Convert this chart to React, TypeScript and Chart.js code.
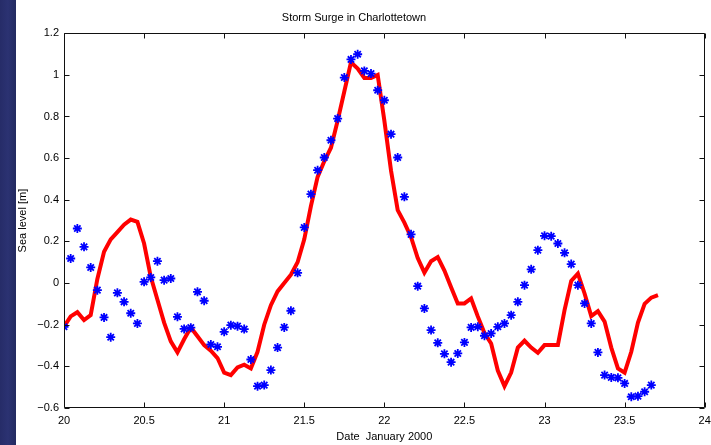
import { useEffect, useRef } from "react";
import { Chart, registerables } from "chart.js";

Chart.register(...registerables);

// Hourly samples starting at day 20 of January 2000
const START_DAY = 20;
const HOURS_PER_DAY = 24;

const X_MIN = 20;
const X_MAX = 24;
const X_STEP = 0.5;
const Y_MIN = -0.6;
const Y_MAX = 1.2;
const Y_STEP = 0.2;

const TITLE = "Storm Surge in Charlottetown";
const X_LABEL = "Date  January 2000";
const Y_LABEL = "Sea level [m]";

// Observed sea level (blue stars), one per hour
const observed = [
  -0.21, 0.118, 0.262, 0.174, 0.075, -0.034, -0.165, -0.26, -0.047, -0.09,
  -0.145, -0.194, 0.006, 0.027, 0.105, 0.014, 0.022, -0.162, -0.22, -0.214,
  -0.042, -0.085, -0.295, -0.306, -0.234, -0.202, -0.207, -0.221, -0.367, -0.495,
  -0.49, -0.418, -0.31, -0.213, -0.133, 0.049, 0.267, 0.427, 0.542, 0.603,
  0.686, 0.79, 0.987, 1.074, 1.099, 1.019, 1.006, 0.926, 0.878, 0.715,
  0.603, 0.414, 0.234, -0.015, -0.122, -0.226, -0.287, -0.34, -0.38, -0.338,
  -0.285, -0.213, -0.21, -0.253, -0.242, -0.21, -0.194, -0.154, -0.09, -0.01,
  0.066, 0.158, 0.227, 0.225, 0.19, 0.145, 0.091, -0.01, -0.098, -0.194,
  -0.333, -0.442, -0.453, -0.455, -0.482, -0.546, -0.543, -0.522, -0.49,
];

// Model surge (red line), one per hour
const predicted = [
  -0.21, -0.16, -0.14, -0.178, -0.154, 0.02, 0.15, 0.21, 0.245, 0.28,
  0.305, 0.294, 0.19, 0.03, -0.08, -0.19, -0.28, -0.333, -0.27, -0.213,
  -0.255, -0.298, -0.325, -0.36, -0.43, -0.442, -0.405, -0.392, -0.41, -0.33,
  -0.2, -0.106, -0.04, 0.0, 0.04, 0.1, 0.21, 0.37, 0.51, 0.585,
  0.65, 0.78, 0.92, 1.06, 1.03, 0.985, 0.985, 1.0, 0.78, 0.54,
  0.35, 0.29, 0.22, 0.12, 0.05, 0.105, 0.125, 0.06, -0.02, -0.098,
  -0.098, -0.074, -0.16, -0.24, -0.29, -0.42, -0.495, -0.43, -0.31, -0.277,
  -0.31, -0.335, -0.298, -0.298, -0.298, -0.13, 0.01, 0.045, -0.05, -0.159,
  -0.135, -0.185, -0.31, -0.41, -0.43, -0.33, -0.19, -0.1, -0.07, -0.058,
];

const toPoints = (vals: number[]) =>
  vals.map((v, i) => ({ x: START_DAY + i / HOURS_PER_DAY, y: v }));

const FONT = { family: "'Liberation Sans', Arial, sans-serif", size: 11, weight: "normal" as const, lineHeight: 1.2 };

const fmt = (v: number) => {
  const r = Math.round(v * 10) / 10;
  if (r === 0) return "0";
  return r < 0 ? "\u2212" + String(Math.abs(r)) : String(r);
};

const matlabAxes = {
  id: "matlabAxes",
  afterDatasetsDraw(chart: any) {
    const { ctx, chartArea, scales } = chart;
    const { left, right, top, bottom } = chartArea;
    const L = Math.round(left) + 0.5;
    const R = Math.round(right) - 0.5;
    const T = Math.round(top) + 0.5;
    const B = Math.round(bottom) - 0.5;
    const tl = 5;
    ctx.save();
    ctx.strokeStyle = "#111";
    ctx.lineWidth = 1;
    ctx.beginPath();
    ctx.rect(L, T, R - L, B - T);
    scales.x.ticks.forEach((t: any) => {
      const px = Math.round(scales.x.getPixelForValue(t.value)) + 0.5;
      ctx.moveTo(px, B);
      ctx.lineTo(px, B - tl);
      ctx.moveTo(px, T);
      ctx.lineTo(px, T + tl);
    });
    scales.y.ticks.forEach((t: any) => {
      const py = Math.round(scales.y.getPixelForValue(t.value)) + 0.5;
      ctx.moveTo(L, py);
      ctx.lineTo(L + tl, py);
      ctx.moveTo(R, py);
      ctx.lineTo(R - tl, py);
    });
    ctx.stroke();
    ctx.restore();
  },
};

export default function App() {
  const ref = useRef<HTMLCanvasElement | null>(null);

  useEffect(() => {
    if (!ref.current) return;
    const chart = new Chart(ref.current, {
      type: "scatter",
      data: {
        datasets: [
          {
            label: "Observed",
            data: toPoints(observed),
            showLine: false,
            pointStyle: "star",
            pointRadius: 4.5,
            pointBorderWidth: 1.8,
            borderColor: "#0000ff",
            backgroundColor: "#0000ff",
            order: 0,
          },
          {
            label: "Model",
            data: toPoints(predicted),
            showLine: true,
            borderColor: "#ff0000",
            borderWidth: 4,
            pointRadius: 0,
            tension: 0,
            order: 1,
          },
        ],
      },
      options: {
        animation: false,
        responsive: false,
        maintainAspectRatio: false,
        layout: { padding: { left: 0, right: 3, top: 0, bottom: 0 } },
        plugins: {
          legend: { display: false },
          tooltip: { enabled: false },
          title: {
            display: true,
            text: TITLE,
            color: "#000",
            font: FONT,
            padding: { top: 11, bottom: 9 },
          },
        },
        scales: {
          x: {
            type: "linear",
            min: X_MIN,
            max: X_MAX,
            ticks: {
              stepSize: X_STEP,
              color: "#000",
              font: FONT,
              padding: 6,
              maxRotation: 0,
              autoSkip: false,
              callback: (v: any) => String(v),
            },
            grid: { display: false, drawTicks: false },
            border: { display: false },
            title: { display: true, text: X_LABEL, color: "#000", font: FONT, padding: { top: 0, bottom: 1 } },
            afterFit: (s: any) => {
              s.height = 37;
              s.paddingLeft = 0;
              s.paddingRight = 0;
            },
          },
          y: {
            type: "linear",
            min: Y_MIN,
            max: Y_MAX,
            ticks: {
              stepSize: Y_STEP,
              color: "#000",
              font: FONT,
              padding: 5,
              callback: (v: any) => fmt(Number(v)),
            },
            grid: { display: false, drawTicks: false },
            border: { display: false },
            title: { display: true, text: Y_LABEL, color: "#000", font: FONT, padding: { top: 16, bottom: 0 } },
            afterFit: (s: any) => {
              s.width = 64;
              s.paddingTop = 0;
              s.paddingBottom = 0;
            },
          },
        },
      },
      plugins: [matlabAxes],
    } as any);
    return () => chart.destroy();
  }, []);

  return (
    <div
      style={{
        position: "absolute",
        left: 0,
        top: 0,
        width: 711,
        height: 445,
        overflow: "hidden",
        background: "linear-gradient(to right, #262c68 0px, #2b3272 8px, #232a60 16px, #ffffff 16px)",
      }}
    >
      <canvas ref={ref} width={711} height={445} style={{ display: "block" }} />
    </div>
  );
}
